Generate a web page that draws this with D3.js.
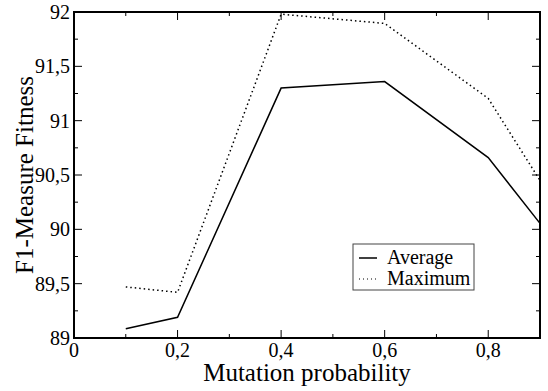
<!DOCTYPE html>
<meta charset="utf-8">
<script src="https://d3js.org/d3.v7.min.js"></script>
<div id="my_dataviz"></div>
<script>
  // data
  var mutation = [0.1, 0.2, 0.4, 0.6, 0.8, 0.9];
  var average  = [89.085, 89.19, 91.30, 91.36, 90.66, 90.055];
  var maximum  = [89.47, 89.42, 91.98, 91.895, 91.205, 90.45];
  var xTicks = [0, 0.2, 0.4, 0.6, 0.8];
  var yTicks = [89, 89.5, 90, 90.5, 91, 91.5, 92];

  var serif = "'Liberation Serif'";
  var margin = {top: 12, right: 8, bottom: 53, left: 74},
      width = 548 - margin.left - margin.right,
      height = 391 - margin.top - margin.bottom;

  d3.select("body").style("margin", "0px");
  var svg = d3.select("#my_dataviz")
    .append("svg")
      .attr("width", 548)
      .attr("height", 391)
      .style("display", "block");

  var x = d3.scaleLinear().domain([0, 0.9]).range([margin.left, margin.left + width]);
  var y = d3.scaleLinear().domain([89, 92]).range([margin.top + height, margin.top]);

  var fmt = function(d) { return String(d).replace(".", ","); };
  var xMinor = d3.range(0, 0.95, 0.1).map(function(d) { return +d.toFixed(1); });
  var yMinor = d3.range(89, 92.01, 0.25);
  var isMajorX = function(d) { return xTicks.indexOf(d) >= 0 ? 8 : 4; };
  var isMajorY = function(d) { return Math.abs(d * 2 - Math.round(d * 2)) < 1e-6 ? 8 : 4; };

  // tick labels first
  svg.selectAll("text.xlab").data(xTicks).enter().append("text")
    .attr("class", "xlab")
    .attr("x", function(d) { return x(d); })
    .attr("y", y(89) + 19)
    .attr("text-anchor", "middle")
    .attr("font-family", serif)
    .attr("font-size", 20)
    .text(fmt);
  svg.selectAll("text.ylab").data(yTicks).enter().append("text")
    .attr("class", "ylab")
    .attr("x", x(0) - 4)
    .attr("y", function(d) { return y(d) + 7; })
    .attr("text-anchor", "end")
    .attr("font-family", serif)
    .attr("font-size", 20)
    .text(fmt);

  // axis titles
  svg.append("text")
    .attr("x", (x(0) + x(0.9)) / 2).attr("y", y(89) + 43)
    .attr("text-anchor", "middle")
    .attr("font-family", serif)
    .attr("font-size", 25)
    .text("Mutation probability");
  svg.append("text")
    .attr("transform", "translate(" + (x(0) - 41) + "," + ((y(89) + y(92)) / 2) + ") rotate(-90)")
    .attr("text-anchor", "middle")
    .attr("font-family", serif)
    .attr("font-size", 25)
    .text("F1-Measure Fitness");

  // inward ticks on all four sides
  var tk = svg.append("g").attr("stroke", "#000").attr("stroke-width", 1);
  tk.selectAll(null).data(xMinor).enter().append("line")
    .attr("x1", function(d) { return x(d); }).attr("x2", function(d) { return x(d); })
    .attr("y1", y(89)).attr("y2", function(d) { return y(89) - isMajorX(d); });
  tk.selectAll(null).data(xMinor).enter().append("line")
    .attr("x1", function(d) { return x(d); }).attr("x2", function(d) { return x(d); })
    .attr("y1", y(92)).attr("y2", function(d) { return y(92) + isMajorX(d); });
  tk.selectAll(null).data(yMinor).enter().append("line")
    .attr("y1", function(d) { return y(d); }).attr("y2", function(d) { return y(d); })
    .attr("x1", x(0)).attr("x2", function(d) { return x(0) + isMajorY(d); });
  tk.selectAll(null).data(yMinor).enter().append("line")
    .attr("y1", function(d) { return y(d); }).attr("y2", function(d) { return y(d); })
    .attr("x1", x(0.9)).attr("x2", function(d) { return x(0.9) - isMajorY(d); });

  // frame
  svg.append("rect")
    .attr("x", x(0)).attr("y", y(92))
    .attr("width", x(0.9) - x(0)).attr("height", y(89) - y(92))
    .attr("fill", "none").attr("stroke", "#000").attr("stroke-width", 2);

  var line = d3.line()
    .x(function(d, i) { return x(mutation[i]); })
    .y(function(d) { return y(d); });

  svg.append("path").datum(average)
    .attr("fill", "none").attr("stroke", "#000").attr("stroke-width", 1.5)
    .attr("d", line);
  svg.append("path").datum(maximum)
    .attr("fill", "none").attr("stroke", "#000").attr("stroke-width", 1.5)
    .attr("stroke-dasharray", "1.5,3")
    .attr("d", line);

  // legend
  var leg = svg.append("g").attr("transform", "translate(353,244)");
  leg.append("rect").attr("width", 121).attr("height", 46)
    .attr("fill", "#fff").attr("stroke", "#444").attr("stroke-width", 1);
  var names = ["Average", "Maximum"];
  names.forEach(function(n, i) {
    leg.append("line")
      .attr("x1", 6).attr("x2", 24)
      .attr("y1", 14 + i * 21).attr("y2", 14 + i * 21)
      .attr("stroke", "#000").attr("stroke-width", i ? 1 : 1.5)
      .attr("stroke-dasharray", i ? "1,3" : null);
    leg.append("text")
      .attr("x", 34).attr("y", 20 + i * 21)
      .attr("font-family", serif)
      .attr("font-size", 20)
      .text(n);
  });
</script>
